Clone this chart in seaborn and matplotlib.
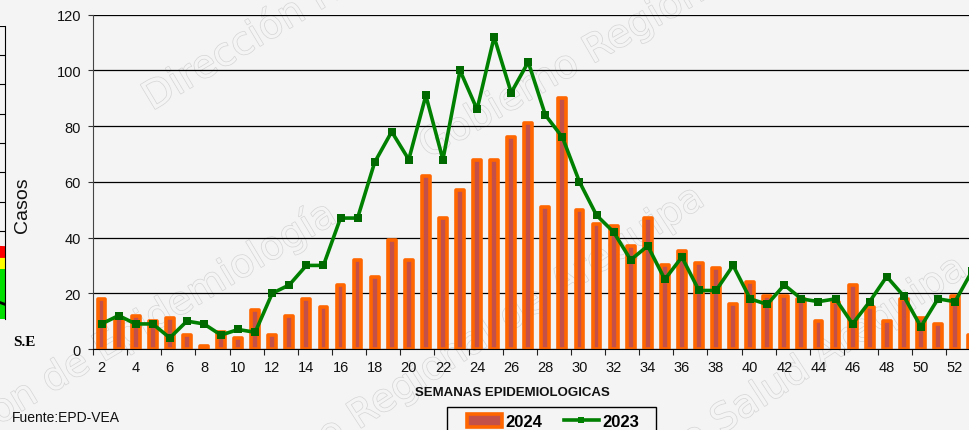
import numpy as np
import pandas as pd
import matplotlib
matplotlib.use("Agg")
import matplotlib.pyplot as plt
import matplotlib.patheffects as pe
from matplotlib.patches import Patch, Rectangle
from matplotlib.lines import Line2D
import seaborn as sns

# datos
semanas = list(range(2, 54))
casos_2024 = [18, 11, 12, 10, 11, 5, 1, 6, 4, 14, 5, 12, 18, 15, 23, 32, 26, 39, 32, 62,
              47, 57, 68, 68, 76, 81, 51, 90, 50, 45, 44, 37, 47, 30, 35, 31, 29, 16, 24, 19,
              19, 18, 10, 17, 23, 15, 10, 18, 11, 9, 19, 5]
casos_2023 = [9, 12, 9, 9, 4, 10, 9, 5, 7, 6, 20, 23, 30, 30, 47, 47, 67, 78, 68, 91,
              68, 100, 86, 112, 92, 103, 84, 76, 60, 48, 42, 32, 37, 25, 33, 21, 21, 30, 18, 16,
              23, 18, 17, 18, 9, 17, 26, 19, 8, 18, 17, 28]
etiquetas_x = [str(s) for s in semanas[::2]]

# canal endemico del grafico vecino (recortado a la izquierda)
canal_x = [0, 1]
canal_exito = [17, 17]
canal_seguridad = [21, 21]
canal_alarma = [26, 25]
canal_casos = [13, 5]

df = pd.DataFrame({"semana": semanas, "c2024": casos_2024, "c2023": casos_2023})

BG = "#F4F4F4"
BAR_FILL = "#C4504A"
BAR_EDGE = "#FF6600"
GREEN = "#008000"

plt.rcParams["font.family"] = ["Liberation Sans", "DejaVu Sans"]

W, H = 969, 431
fig = plt.figure(figsize=(W / 100, H / 100), dpi=100, facecolor=BG)


def px(l, t, r, b):
    return [l / W, 1 - b / H, (r - l) / W, (b - t) / H]


# marca de agua (contorno gris claro)
wm = dict(color=BG, fontsize=28, family="DejaVu Sans", zorder=-1,
          rotation_mode="anchor", path_effects=[pe.withStroke(linewidth=1.0, foreground="#D5D5D5")])
fig.text(152 / W, 1 - 112 / H, "Dirección Regional de Salud", rotation=31, ha="left", va="baseline", **wm)
fig.text(338 / W, 1 - 222 / H, "Dirección de Epidemiología", rotation=31, ha="right", va="baseline", **wm)
fig.text(428 / W, 1 - 160 / H, "Gobierno Regional de Arequipa", rotation=30, ha="left", va="baseline", **wm)
fig.text(706 / W, 1 - 205 / H, "Gobierno Regional de Arequipa", rotation=33, ha="right", va="baseline", **wm)
fig.text(968 / W, 1 - 275 / H, "Gerencia Regional de Salud Arequipa", rotation=33, ha="right", va="baseline", **wm)

# grafico principal
ax = fig.add_axes(px(93, 15.7, 980.6, 350))
ax.set_facecolor("none")
sns.barplot(data=df, x="semana", y="c2024", color=BAR_FILL, saturation=1, width=0.46,
            edgecolor=BAR_EDGE, linewidth=2.6, ax=ax, zorder=2)
for p in ax.patches:
    p.set_joinstyle("round")
    p.set_edgecolor(BAR_EDGE)
    p.set_linewidth(2.6)
sns.lineplot(x=np.arange(len(semanas)), y=casos_2023, color=GREEN, linewidth=2.6, marker="s",
             markersize=6, markeredgewidth=0, markerfacecolor="#006A00", ax=ax, zorder=3)

ax.set_xlim(-0.5, len(semanas) - 0.5)
ax.set_ylim(0, 120)
ax.set_yticks(range(0, 121, 20))
ax.set_xticks(np.arange(0, len(semanas), 2))
ax.set_xticklabels(etiquetas_x)
ax.set_xticks(np.arange(-0.5, len(semanas), 2), minor=True)
ax.set_xlabel("")
ax.set_ylabel("")
ax.yaxis.grid(True, color="black", linewidth=0.9)
ax.set_axisbelow(True)
ax.tick_params(axis="x", which="major", length=0, pad=8, labelsize=10.5, labelcolor="#111111")
ax.tick_params(axis="x", which="minor", length=4, width=0.8, direction="out", color="#222222")
ax.tick_params(axis="y", length=3.6, width=0.8, pad=5, labelsize=10.5, labelcolor="#111111", color="#333333")
for s in ["top", "right"]:
    ax.spines[s].set_visible(False)
ax.spines["left"].set_color("#444444")
ax.spines["bottom"].set_color("black")

# grafico vecino recortado
axl = fig.add_axes(px(-60, 26.7, 5, 320))
axl.set_facecolor("none")
axl.fill_between(canal_x, 0, canal_exito, color="#00E000", lw=0)
axl.fill_between(canal_x, canal_exito, canal_seguridad, color="#FFFF00", lw=0)
axl.fill_between(canal_x, canal_seguridad, canal_alarma, color="#FF0000", lw=0)
sns.lineplot(x=canal_x, y=canal_casos, color="black", linewidth=2, ax=axl)
axl.set_xlim(0, 1)
axl.set_ylim(0, 100)
axl.set_yticks(range(0, 101, 10))
axl.yaxis.grid(True, color="black", linewidth=0.8)
axl.set_axisbelow(True)
axl.tick_params(left=False, bottom=False, labelleft=False, labelbottom=False)
for s in ["top", "left", "bottom"]:
    axl.spines[s].set_visible(False)
axl.spines["right"].set_color("black")

# textos
fig.text(22 / W, 1 - 205 / H, "Casos", rotation=90, fontsize=14, ha="center", va="center", color="#111111")
fig.text(13 / W, 1 - 342 / H, "S.E", family=["Liberation Serif", "DejaVu Serif"], weight="bold",
         fontsize=11, ha="left", va="center")
fig.text(512 / W, 1 - 393 / H, "SEMANAS EPIDEMIOLOGICAS", weight="bold", fontsize=9.5,
         ha="center", va="center", color="#111111")
fig.text(12 / W, 1 - 418 / H, "Fuente:EPD-VEA", fontsize=10, ha="left", va="center", color="#111111")

# leyenda con marco propio (recortado por el borde inferior)
fig.add_artist(Rectangle((447 / W, 1 - 445 / H), (656 - 447) / W, (445 - 408) / H,
                         transform=fig.transFigure, fill=False, edgecolor="black", linewidth=1))
handles = [Patch(facecolor=BAR_FILL, edgecolor=BAR_EDGE, linewidth=2.6),
           Line2D([], [], color=GREEN, lw=2.6, marker="s", markersize=5, markeredgewidth=0)]
leg = fig.legend(handles, ["2024", "2023"], ncol=2, loc="upper left",
                 bbox_to_anchor=(467 / W, 1 - 415 / H), frameon=False,
                 prop={"weight": "bold", "size": 12}, handlelength=2.1, handleheight=0.8,
                 handletextpad=0.2, columnspacing=1.3, borderpad=0, borderaxespad=0)

fig.savefig("out.png", dpi=100, facecolor=BG)
